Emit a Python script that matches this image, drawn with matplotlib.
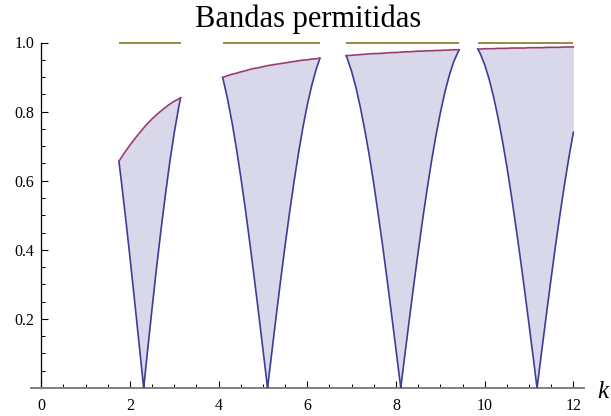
import matplotlib
matplotlib.use("Agg")
import matplotlib.pyplot as plt
from matplotlib.ticker import MultipleLocator

# ---- data (four allowed bands) ----
k1 = [1.751, 1.8, 1.9, 2.0, 2.1, 2.2, 2.3, 2.309, 2.4, 2.5, 2.6, 2.7, 2.8, 2.9, 3.0, 3.1, 3.142]
lower1 = [0.656, 0.605, 0.494, 0.378, 0.258, 0.135, 0.011, 0.000, 0.112, 0.232, 0.349, 0.458, 0.560, 0.656, 0.740, 0.813, 0.840]
upper1 = [0.656, 0.666, 0.685, 0.703, 0.720, 0.736, 0.751, 0.753, 0.766, 0.779, 0.791, 0.802, 0.812, 0.822, 0.830, 0.837, 0.840]

k2 = [4.09, 4.1, 4.2, 4.3, 4.4, 4.5, 4.6, 4.7, 4.8, 4.9, 5.0, 5.1, 5.103, 5.2, 5.3, 5.4, 5.5, 5.6, 5.7, 5.8, 5.9, 6.0, 6.1, 6.2, 6.283]
lower2 = [0.899, 0.894, 0.837, 0.770, 0.694, 0.610, 0.520, 0.423, 0.322, 0.218, 0.111, 0.003, 0.000, 0.104, 0.211, 0.314, 0.414, 0.508, 0.597, 0.679, 0.754, 0.820, 0.876, 0.923, 0.954]
upper2 = [0.899, 0.899, 0.904, 0.908, 0.911, 0.915, 0.918, 0.922, 0.925, 0.927, 0.930, 0.933, 0.933, 0.935, 0.937, 0.939, 0.941, 0.943, 0.945, 0.947, 0.949, 0.950, 0.952, 0.953, 0.955]

k3 = [6.876, 6.9, 7.0, 7.1, 7.2, 7.3, 7.4, 7.5, 7.6, 7.7, 7.8, 7.9, 8.0, 8.1, 8.107, 8.2, 8.3, 8.4, 8.5, 8.6, 8.7, 8.8, 8.9, 9.0, 9.1, 9.2, 9.3, 9.4, 9.425]
lower3 = [0.962, 0.954, 0.916, 0.868, 0.810, 0.744, 0.671, 0.590, 0.502, 0.410, 0.313, 0.213, 0.111, 0.008, 0.000, 0.096, 0.198, 0.298, 0.394, 0.487, 0.574, 0.656, 0.730, 0.796, 0.855, 0.904, 0.944, 0.973, 0.979]
upper3 = [0.962, 0.962, 0.963, 0.964, 0.965, 0.966, 0.967, 0.968, 0.968, 0.969, 0.970, 0.971, 0.971, 0.972, 0.972, 0.973, 0.973, 0.974, 0.975, 0.975, 0.976, 0.976, 0.977, 0.977, 0.978, 0.978, 0.979, 0.979, 0.979]

k4 = [9.845, 9.9, 10.0, 10.1, 10.2, 10.3, 10.4, 10.5, 10.6, 10.7, 10.8, 10.9, 11.0, 11.1, 11.181, 11.2, 11.3, 11.4, 11.5, 11.6, 11.7, 11.8, 11.9, 12.0]
lower4 = [0.981, 0.968, 0.936, 0.894, 0.843, 0.783, 0.716, 0.641, 0.559, 0.471, 0.379, 0.283, 0.184, 0.083, 0.000, 0.019, 0.121, 0.221, 0.319, 0.414, 0.504, 0.589, 0.668, 0.740]
upper4 = [0.981, 0.981, 0.982, 0.982, 0.982, 0.983, 0.983, 0.983, 0.984, 0.984, 0.984, 0.984, 0.985, 0.985, 0.985, 0.985, 0.985, 0.986, 0.986, 0.986, 0.986, 0.987, 0.987, 0.987]

limit_level = 1.0
x_ticks = [0, 2, 4, 6, 8, 10, 12]
y_ticks = [0.2, 0.4, 0.6, 0.8, 1.0]
title = "Bandas permitidas"
x_label = "k"

bands = [(k1, lower1, upper1), (k2, lower2, upper2), (k3, lower3, upper3), (k4, lower4, upper4)]

BLUE = "#3d3d99"
MAGENTA = "#993d71"
OLIVE = "#998b3d"
FILL = "#d8d8ea"
SERIF = ["Liberation Serif", "DejaVu Serif"]

fig = plt.figure(figsize=(6.11, 4.16), dpi=100)
ax = fig.add_axes([31 / 611, 28 / 416, 553 / 611, 345.5 / 416])
ax.set_xlim(-0.232, 12.24)
ax.set_ylim(0, 1.0)

for ks, lo, up in bands:
    ax.fill_between(ks, lo, up, color=FILL, lw=0, zorder=1)
    ax.plot(ks, lo, color=BLUE, lw=1.2, zorder=3, solid_joinstyle="round")
    ax.plot(ks, up, color=MAGENTA, lw=1.2, zorder=3, solid_joinstyle="round")
    ax.plot([ks[0], ks[-1]], [limit_level, limit_level], color=OLIVE, lw=1.4,
            zorder=3, clip_on=False, solid_capstyle="butt")

for s in ("top", "right"):
    ax.spines[s].set_visible(False)
ax.spines["left"].set_position(("data", 0))
ax.spines["left"].set_bounds(0, 1.0)
ax.spines["left"].set_linewidth(0.9)
ax.spines["left"].set_color("black")
ax.spines["bottom"].set_color("#808080")
ax.spines["bottom"].set_linewidth(1.4)

ax.set_xticks(x_ticks)
ax.set_xticklabels([str(v) for v in x_ticks])
ax.set_yticks(y_ticks)
ax.set_yticklabels([f"{v:.1f}" for v in y_ticks])
ax.xaxis.set_minor_locator(MultipleLocator(0.5))
ax.yaxis.set_minor_locator(MultipleLocator(0.05))
ax.tick_params(axis="both", which="major", direction="in", length=5, width=0.8, color="black")
ax.tick_params(axis="both", which="minor", direction="in", length=3, width=0.7, color="black")
ax.tick_params(axis="x", which="major", pad=7)
ax.tick_params(axis="y", which="major", pad=5)
for lab in ax.get_xticklabels() + ax.get_yticklabels():
    lab.set_fontfamily(SERIF)
    lab.set_fontsize(11.5)

fig.text(308.5 / 611, 1 - 27 / 416, title, ha="center", va="baseline", fontsize=22, family=SERIF)
fig.text(603 / 611, 1 - 392 / 416, x_label, ha="center", va="center", fontsize=18,
         family=SERIF, style="italic")

fig.savefig("out.png", dpi=100)
